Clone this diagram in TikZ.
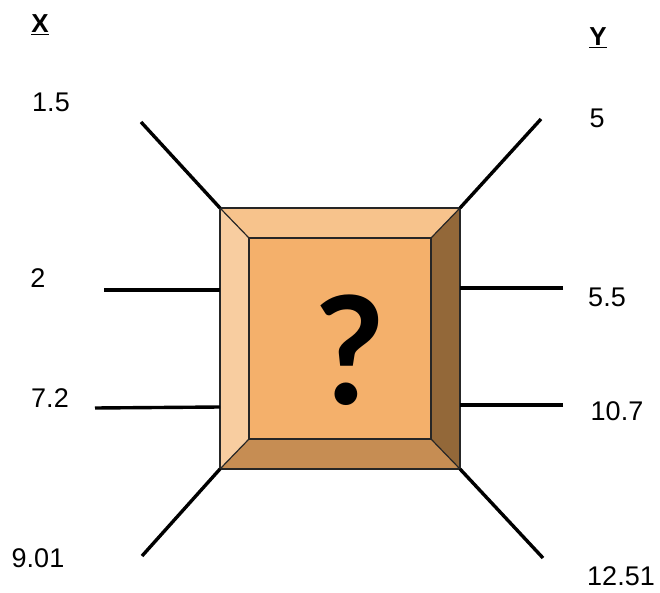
\documentclass[tikz,border=0pt]{standalone}
\usepackage{fontspec}
\setmainfont{Liberation Sans}
\newfontfamily\askfont{Lato}
\usetikzlibrary{positioning}

\definecolor{facetop}{HTML}{F7C38C}
\definecolor{faceleft}{HTML}{F8CDA0}
\definecolor{faceright}{HTML}{936839}
\definecolor{facebottom}{HTML}{C68D53}
\definecolor{facemid}{HTML}{F4B06B}

\begin{document}
\begin{tikzpicture}[x=1pt,y=-1pt,
  wire/.style={line width=3.4pt},
  face/.style={draw=black!85,line width=1.2pt},
  val/.style={font=\fontsize{27}{30}\selectfont,inner sep=0pt},
  head/.style={font=\bfseries\fontsize{26}{28}\selectfont,inner sep=0pt}]
  \useasboundingbox (0,0) rectangle (660,593);
  % outer and inner corners of the box
  \coordinate (otl) at (220,208);
  \coordinate (otr) at (460,208);
  \coordinate (obr) at (460,469);
  \coordinate (obl) at (220,469);
  \coordinate (itl) at (249,238);
  \coordinate (itr) at (431,238);
  \coordinate (ibr) at (431,439);
  \coordinate (ibl) at (249,439);
  \fill[facetop] (otl) -- (otr) -- (itr) -- (itl) -- cycle;
  \fill[faceleft] (otl) -- (itl) -- (ibl) -- (obl) -- cycle;
  \fill[faceright] (otr) -- (obr) -- (ibr) -- (itr) -- cycle;
  \fill[facebottom] (obl) -- (ibl) -- (ibr) -- (obr) -- cycle;
  \draw[face,fill=facemid] (itl) rectangle (ibr);
  \draw[face] (otl) -- (itl) (otr) -- (itr) (obr) -- (ibr) (obl) -- (ibl);
  \draw[face] (otl) rectangle (obr);
  \node[font=\askfont\bfseries\fontsize{150}{150}\selectfont,inner sep=0pt] (ask) at (350,350) {?};
  % wire ends
  \coordinate (a1) at (141,122);
  \coordinate (a2) at (104,290);
  \coordinate (a3) at (95,408);
  \coordinate (a4) at (142,556);
  \coordinate (b1) at (541,119);
  \coordinate (b2) at (563,288);
  \coordinate (b3) at (563,405);
  \coordinate (b4) at (543,558);
  \coordinate (la2) at (220,290);
  \coordinate (la3) at (220,407);
  \coordinate (lb2) at (460,288);
  \coordinate (lb3) at (460,405);
  \draw[wire] (a1) -- (otl);
  \draw[wire] (a2) -- (la2);
  \draw[wire] (a3) -- (la3);
  \draw[wire] (a4) -- (obl);
  \draw[wire] (b1) -- (otr);
  \draw[wire] (b2) -- (lb2);
  \draw[wire] (b3) -- (lb3);
  \draw[wire] (b4) -- (obr);
  % labels
  \node[head] (xhead) at (40,25) {\underline{X}};
  \node[head] (yhead) at (598,38) {\underline{Y}};
  \node[val] (x1) at (51,102) {1.5};
  \node[val] (x2) at (38,278) {2};
  \node[val] (x3) at (50,398) {7.2};
  \node[val] (x4) at (38,558) {9.01};
  \node[val] (y1) at (597,118) {5};
  \node[val] (y2) at (607,297) {5.5};
  \node[val] (y3) at (617,411) {10.7};
  \node[val] (y4) at (621,576) {12.51};
\end{tikzpicture}
\end{document}
